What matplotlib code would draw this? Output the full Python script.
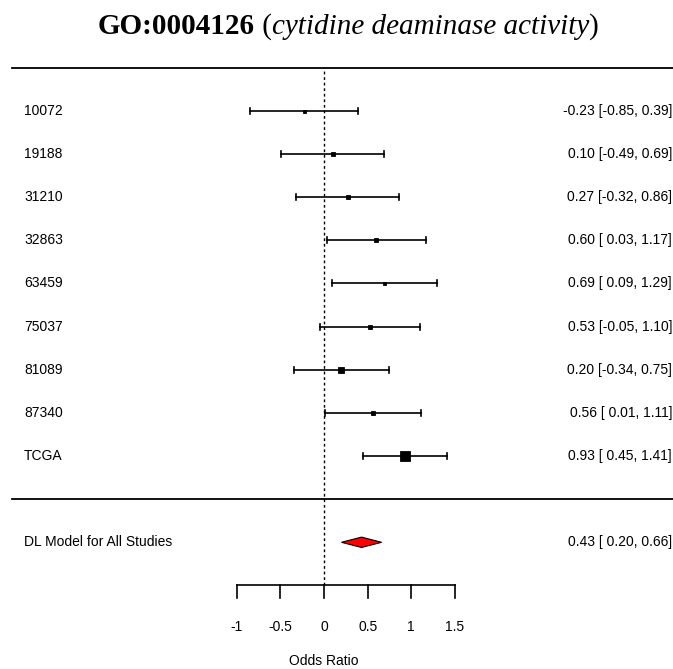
import numpy as np
import matplotlib
matplotlib.use("Agg")
from matplotlib import pyplot as plt

# study data (log odds ratio with 95% CI)
studies = ['10072', '19188', '31210', '32863', '63459', '75037', '81089', '87340', 'TCGA']
est = [-0.23, 0.10, 0.27, 0.60, 0.69, 0.53, 0.20, 0.56, 0.93]
lo = [-0.85, -0.49, -0.32, 0.03, 0.09, -0.05, -0.34, 0.01, 0.45]
hi = [0.39, 0.69, 0.86, 1.17, 1.29, 1.10, 0.75, 1.11, 1.41]
box_px = [3, 4, 4, 5, 3, 4.5, 6, 5, 9.5]  # square side in pixels

sum_label = 'DL Model for All Studies'
sum_est, sum_lo, sum_hi = 0.43, 0.20, 0.66

ticks = [-1, -0.5, 0, 0.5, 1, 1.5]
tick_labels = ['-1', '-0.5', '0', '0.5', '1', '1.5']

W, H = 673, 669
fig = plt.figure(figsize=(W / 100, H / 100), dpi=100)
ax = fig.add_axes([0, 0, 1, 1])
ax.axis('off')

# pixel mapping: x=0 at 324px, 87.3px per unit; row spacing 43.15px
x0, sx = 324, 87.3
y_row1, sy = 456, 43.15
ax.set_xlim((0 - x0) / sx, (W - x0) / sx)
ax.set_ylim(1 - (H - y_row1) / sy, 1 + y_row1 / sy)

xl = (24 - x0) / sx
xr = (W - 1 - x0) / sx
xleft_line = (12 - x0) / sx

k = len(studies)
rows = np.arange(k, 0, -1)

# horizontal separators
ax.plot([xleft_line, xr + 0.02], [k + 1, k + 1], color='black', lw=1.3)
ax.plot([xleft_line, xr + 0.02], [0, 0], color='black', lw=1.3)

# reference line
ax.plot([0, 0], [-2, k + 1], color='black', lw=1, ls=(0, (2, 2)))

fs = 10
sans = ['Liberation Sans', 'DejaVu Sans']
cap = 0.07
for r, name, e, l, h, s in zip(rows, studies, est, lo, hi, box_px):
    ax.plot([l, h], [r, r], color='black', lw=1.2)
    ax.plot([l, l], [r - cap, r + cap], color='black', lw=1.2)
    ax.plot([h, h], [r - cap, r + cap], color='black', lw=1.2)
    ax.plot(e, r, marker='s', color='black', markersize=s * 0.72,
            markeredgewidth=0.6)
    ax.text(xl, r, name, ha='left', va='center', fontsize=fs, family=sans)
    txt = '%.2f [%s, %.2f]' % (e, ('%5.2f' % l), h)
    ax.text(xr, r, txt, ha='right', va='center', fontsize=fs, family=sans)

# summary diamond
ax.fill([sum_lo, sum_est, sum_hi, sum_est], [-1, -1 + 0.12, -1, -1 - 0.12],
        facecolor='red', edgecolor='black', lw=0.8)
ax.text(xl, -1, sum_label, ha='left', va='center', fontsize=fs, family=sans)
ax.text(xr, -1, '%.2f [%s, %.2f]' % (sum_est, '%5.2f' % sum_lo, sum_hi),
        ha='right', va='center', fontsize=fs, family=sans)

# x axis
ax.plot([ticks[0], ticks[-1]], [-2, -2], color='black', lw=1.2)
for t, tl in zip(ticks, tick_labels):
    ax.plot([t, t], [-2, -2.3], color='black', lw=1.2)
    ax.text(t, -2.97, tl, ha='center', va='center', fontsize=fs, family=sans)
ax.text(0, -3.75, 'Odds Ratio', ha='center', va='center', fontsize=fs, family=sans)

# title: bold id + italic term, centred as one line
serif = ['Liberation Serif', 'DejaVu Serif']
tfs = 21
ty = 1 - 34 / H
parts = [('GO:0004126', 'bold', 'normal'), (' (', 'normal', 'normal'),
         ('cytidine deaminase activity', 'normal', 'italic'), (')', 'normal', 'normal')]
renderer = fig.canvas.get_renderer()
objs = []
for s, wgt, sty in parts:
    objs.append(fig.text(0, ty, s, fontsize=tfs, fontweight=wgt, style=sty,
                         family=serif, ha='left', va='baseline'))
widths = [o.get_window_extent(renderer).width for o in objs]
xpos = (W - sum(widths)) / 2 + 12
for o, w in zip(objs, widths):
    o.set_x(xpos / W)
    xpos += w

fig.savefig('out.png', dpi=100)
